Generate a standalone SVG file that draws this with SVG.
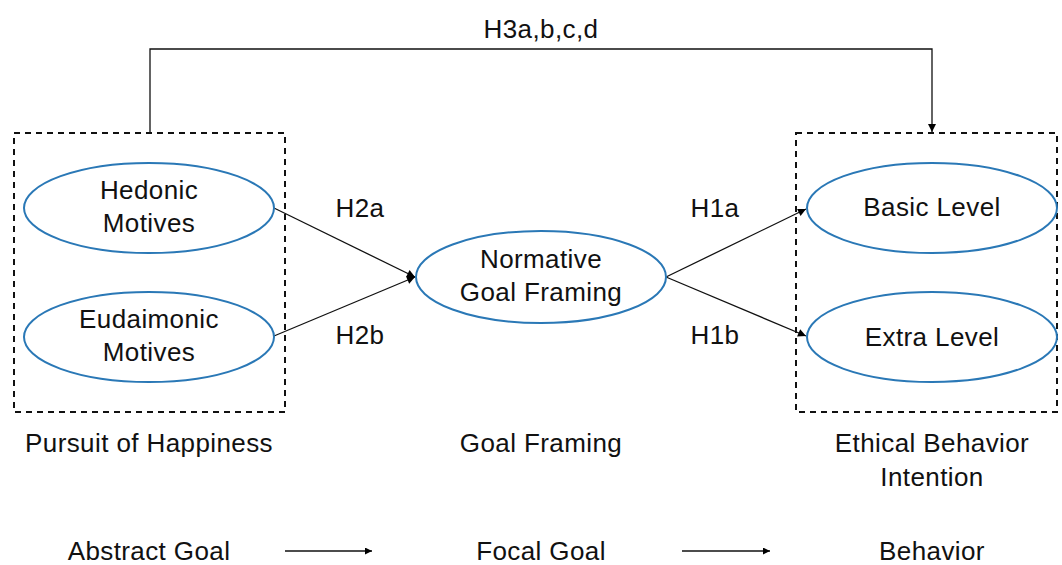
<svg xmlns="http://www.w3.org/2000/svg" width="1062" height="565" viewBox="0 0 1062 565">
<defs>
<marker id="ah" viewBox="0 0 10 10" refX="10" refY="5" markerWidth="12" markerHeight="8" markerUnits="userSpaceOnUse" orient="auto"><path d="M0,0 L10,5 L0,10 z" fill="#000"/></marker>
<marker id="ahs" viewBox="0 0 10 10" refX="10" refY="5" markerWidth="13" markerHeight="7" markerUnits="userSpaceOnUse" orient="auto"><path d="M0,0 L10,5 L0,10 z" fill="#000"/></marker>
</defs>
<style>
text{font-family:"Liberation Sans",Arial,sans-serif;font-size:26px;letter-spacing:0.4px;fill:#111;text-anchor:middle}
.ell{fill:#fff;stroke:#2a78b6;stroke-width:2}
.box{fill:none;stroke:#111;stroke-width:2;stroke-dasharray:6,5}
.con{fill:none;stroke:#111;stroke-width:1.3}
</style>
<rect width="1062" height="565" fill="#fff"/>
<g id="box-left"><rect class="box" x="14" y="133" width="271" height="279"/></g>
<g id="box-right"><rect class="box" x="796" y="133" width="261" height="279"/></g>
<g id="connectors">
<path class="con" d="M150,133 V49 H932 V132" marker-end="url(#ah)"/>
<line class="con" x1="274" y1="208" x2="415" y2="277" marker-end="url(#ah)"/>
<line class="con" x1="274" y1="336" x2="415" y2="277" marker-end="url(#ah)"/>
<line class="con" x1="666" y1="277" x2="806" y2="209" marker-end="url(#ah)"/>
<line class="con" x1="666" y1="277" x2="806" y2="336" marker-end="url(#ah)"/>
<line class="con" x1="285" y1="551" x2="372" y2="551" marker-end="url(#ahs)"/>
<line class="con" x1="682" y1="551" x2="770" y2="551" marker-end="url(#ahs)"/>
</g>
<g id="hedonic"><ellipse class="ell" cx="149" cy="208" rx="125" ry="45"/><text x="149" y="199">Hedonic</text><text x="149" y="232">Motives</text></g>
<g id="eudaimonic"><ellipse class="ell" cx="149" cy="337" rx="125" ry="45"/><text x="149" y="328">Eudaimonic</text><text x="149" y="361">Motives</text></g>
<g id="normative"><ellipse class="ell" cx="541" cy="277" rx="125" ry="46"/><text x="541" y="268">Normative</text><text x="541" y="301">Goal Framing</text></g>
<g id="basic"><ellipse class="ell" cx="932" cy="208" rx="125" ry="45"/><text x="932" y="216">Basic Level</text></g>
<g id="extra"><ellipse class="ell" cx="932" cy="337" rx="125" ry="45"/><text x="932" y="346">Extra Level</text></g>
<g id="labels">
<text x="541" y="38">H3a,b,c,d</text>
<text x="360" y="217">H2a</text>
<text x="360" y="344">H2b</text>
<text x="715" y="217">H1a</text>
<text x="715" y="344">H1b</text>
<text x="149" y="452">Pursuit of Happiness</text>
<text x="541" y="452">Goal Framing</text>
<text x="932" y="452">Ethical Behavior</text>
<text x="932" y="486">Intention</text>
<text x="149" y="560">Abstract Goal</text>
<text x="541" y="560">Focal Goal</text>
<text x="932" y="560">Behavior</text>
</g>
</svg>
